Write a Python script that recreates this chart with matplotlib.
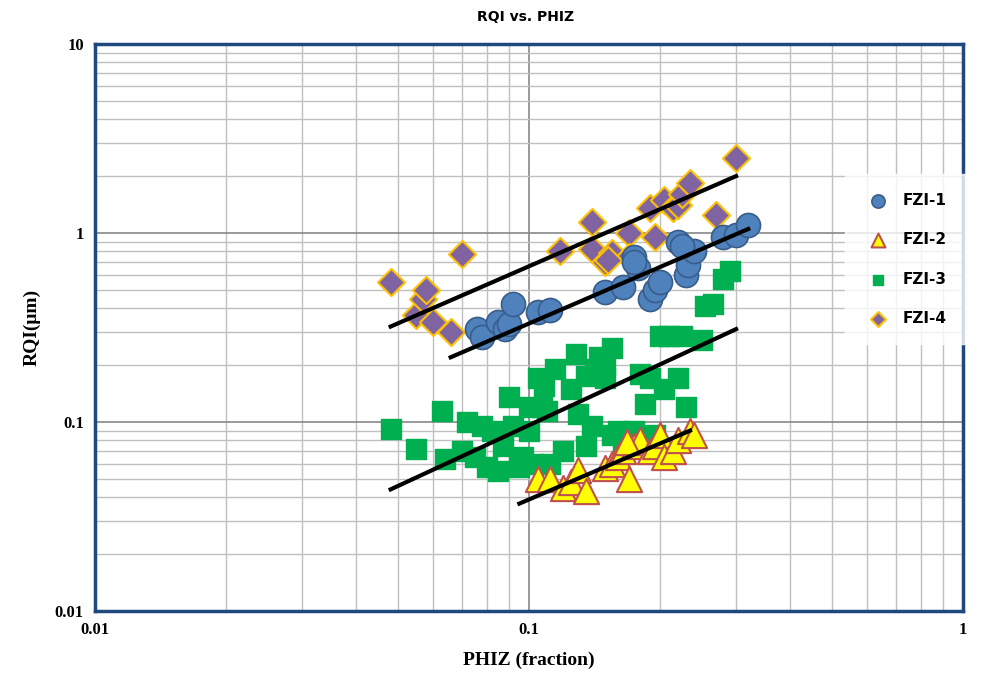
import matplotlib
matplotlib.use('Agg')
from matplotlib import pyplot as plt
import numpy as np

fzi1_x = [0.076, 0.078, 0.085, 0.088, 0.09, 0.092, 0.105, 0.112, 0.15, 0.165, 0.175, 0.178, 0.19,
          0.195, 0.2, 0.22, 0.23, 0.232, 0.24, 0.28, 0.3, 0.32, 0.175, 0.225]
fzi1_y = [0.31, 0.28, 0.34, 0.31, 0.33, 0.42, 0.38, 0.39, 0.49, 0.52, 0.75, 0.65, 0.45,
          0.5, 0.55, 0.9, 0.6, 0.68, 0.8, 0.95, 0.98, 1.1, 0.7, 0.85]

fzi2_x = [0.105, 0.112, 0.12, 0.125, 0.13, 0.135, 0.15, 0.155, 0.16, 0.165, 0.17, 0.175, 0.18,
          0.19, 0.195, 0.2, 0.205, 0.215, 0.22, 0.235, 0.24, 0.168]
fzi2_y = [0.05, 0.05, 0.045, 0.048, 0.056, 0.043, 0.057, 0.06, 0.065, 0.07, 0.05, 0.075, 0.08,
          0.07, 0.075, 0.085, 0.065, 0.07, 0.08, 0.09, 0.085, 0.078]

fzi3_x = [0.048, 0.055, 0.063, 0.064, 0.07, 0.072, 0.075, 0.078, 0.08, 0.082, 0.085, 0.087, 0.09,
          0.092, 0.095, 0.097, 0.1, 0.102, 0.105, 0.107, 0.108, 0.11, 0.112, 0.115, 0.12, 0.125,
          0.128, 0.13, 0.135, 0.135, 0.14, 0.142, 0.145, 0.15, 0.155, 0.155, 0.16, 0.165, 0.175,
          0.18, 0.185, 0.19, 0.195, 0.2, 0.205, 0.21, 0.22, 0.225, 0.23, 0.25, 0.255, 0.265,
          0.28, 0.29, 0.1, 0.15]
fzi3_y = [0.092, 0.072, 0.115, 0.064, 0.07, 0.1, 0.065, 0.095, 0.058, 0.09, 0.055, 0.075, 0.135,
          0.095, 0.058, 0.065, 0.09, 0.06, 0.17, 0.12, 0.155, 0.115, 0.06, 0.19, 0.07, 0.15,
          0.23, 0.11, 0.175, 0.075, 0.095, 0.19, 0.22, 0.17, 0.245, 0.085, 0.09, 0.075, 0.09,
          0.18, 0.125, 0.17, 0.085, 0.285, 0.15, 0.285, 0.17, 0.285, 0.12, 0.27, 0.41, 0.42,
          0.57, 0.63, 0.12, 0.2]

fzi4_x = [0.048, 0.055, 0.057, 0.058, 0.06, 0.066, 0.07, 0.118, 0.14, 0.14, 0.15, 0.155, 0.17,
          0.17, 0.19, 0.195, 0.205, 0.215, 0.22, 0.225, 0.235, 0.27, 0.3, 0.152]
fzi4_y = [0.55, 0.37, 0.45, 0.5, 0.34, 0.3, 0.77, 0.8, 1.15, 0.82, 0.7, 0.78, 1.0,
          0.75, 1.35, 0.95, 1.5, 1.35, 1.4, 1.6, 1.85, 1.25, 2.5, 0.72]

# trend lines (end points)
line4_x, line4_y = [0.048, 0.3], [0.32, 2.0]
line1_x, line1_y = [0.066, 0.32], [0.22, 1.05]
line3_x, line3_y = [0.048, 0.3], [0.044, 0.31]
line2_x, line2_y = [0.095, 0.235], [0.037, 0.09]

fig = plt.figure(figsize=(9.83, 6.82), dpi=100)
ax = fig.add_axes([95/983, 1-611/682, 868/983, 567/682])
ax.set_xscale('log')
ax.set_yscale('log')
ax.set_xlim(0.01, 1)
ax.set_ylim(0.01, 10)

ax.grid(True, which='major', color='#888888', lw=1.2)
ax.grid(True, which='minor', color='#c0c0c0', lw=1.0)
ax.set_axisbelow(True)

ax.scatter(fzi3_x, fzi3_y, marker='s', s=190, c='#00b050', edgecolors='#00b050', zorder=3, label='FZI-3')
ax.scatter(fzi2_x, fzi2_y, marker='^', s=330, c='#ffff00', edgecolors='#c0504d', lw=1.5, zorder=4, label='FZI-2')
ax.scatter(fzi4_x, fzi4_y, marker='D', s=190, c='#8064a2', edgecolors='#ffc000', lw=1.5, zorder=3, label='FZI-4')
ax.scatter(fzi1_x, fzi1_y, marker='o', s=300, c='#4f81bd', edgecolors='#385d8a', lw=1.2, zorder=4, label='FZI-1')

for lx, ly in [(line4_x, line4_y), (line1_x, line1_y), (line3_x, line3_y), (line2_x, line2_y)]:
    ax.plot(lx, ly, 'k', lw=3, zorder=5)

for s in ax.spines.values():
    s.set_color('#1f497d')
    s.set_linewidth(2.5)

ax.set_xticks([0.01, 0.1, 1])
ax.set_xticklabels(['0.01', '0.1', '1'])
ax.set_yticks([0.01, 0.1, 1, 10])
ax.set_yticklabels(['0.01', '0.1', '1', '10'])
ax.tick_params(which='both', length=0, pad=8)
for t in ax.get_xticklabels() + ax.get_yticklabels():
    t.set_fontweight('bold')
    t.set_fontfamily('Liberation Serif')
    t.set_fontsize(12)

ax.set_xlabel('PHIZ (fraction)', fontsize=14, fontweight='bold', family='Liberation Serif', labelpad=10)
ax.set_ylabel('RQI(\u03bcm)', fontsize=14, fontweight='bold', family='Liberation Serif', labelpad=10)
fig.text(0.535, 0.975, 'RQI vs. PHIZ', ha='center', va='center', fontsize=10, fontweight='bold')

h, l = ax.get_legend_handles_labels()
order = [3, 1, 0, 2]
leg = ax.legend([h[i] for i in order], [l[i] for i in order], loc='center left',
                bbox_to_anchor=(0.855, 0.62), frameon=True, fancybox=False, edgecolor='white',
                labelspacing=1.6, markerscale=0.55, prop={'weight': 'bold', 'size': 11},
                borderpad=1.2, handletextpad=0.6)
leg.get_frame().set_facecolor('white')
leg.set_zorder(10)

plt.savefig('out.png', dpi=100)
